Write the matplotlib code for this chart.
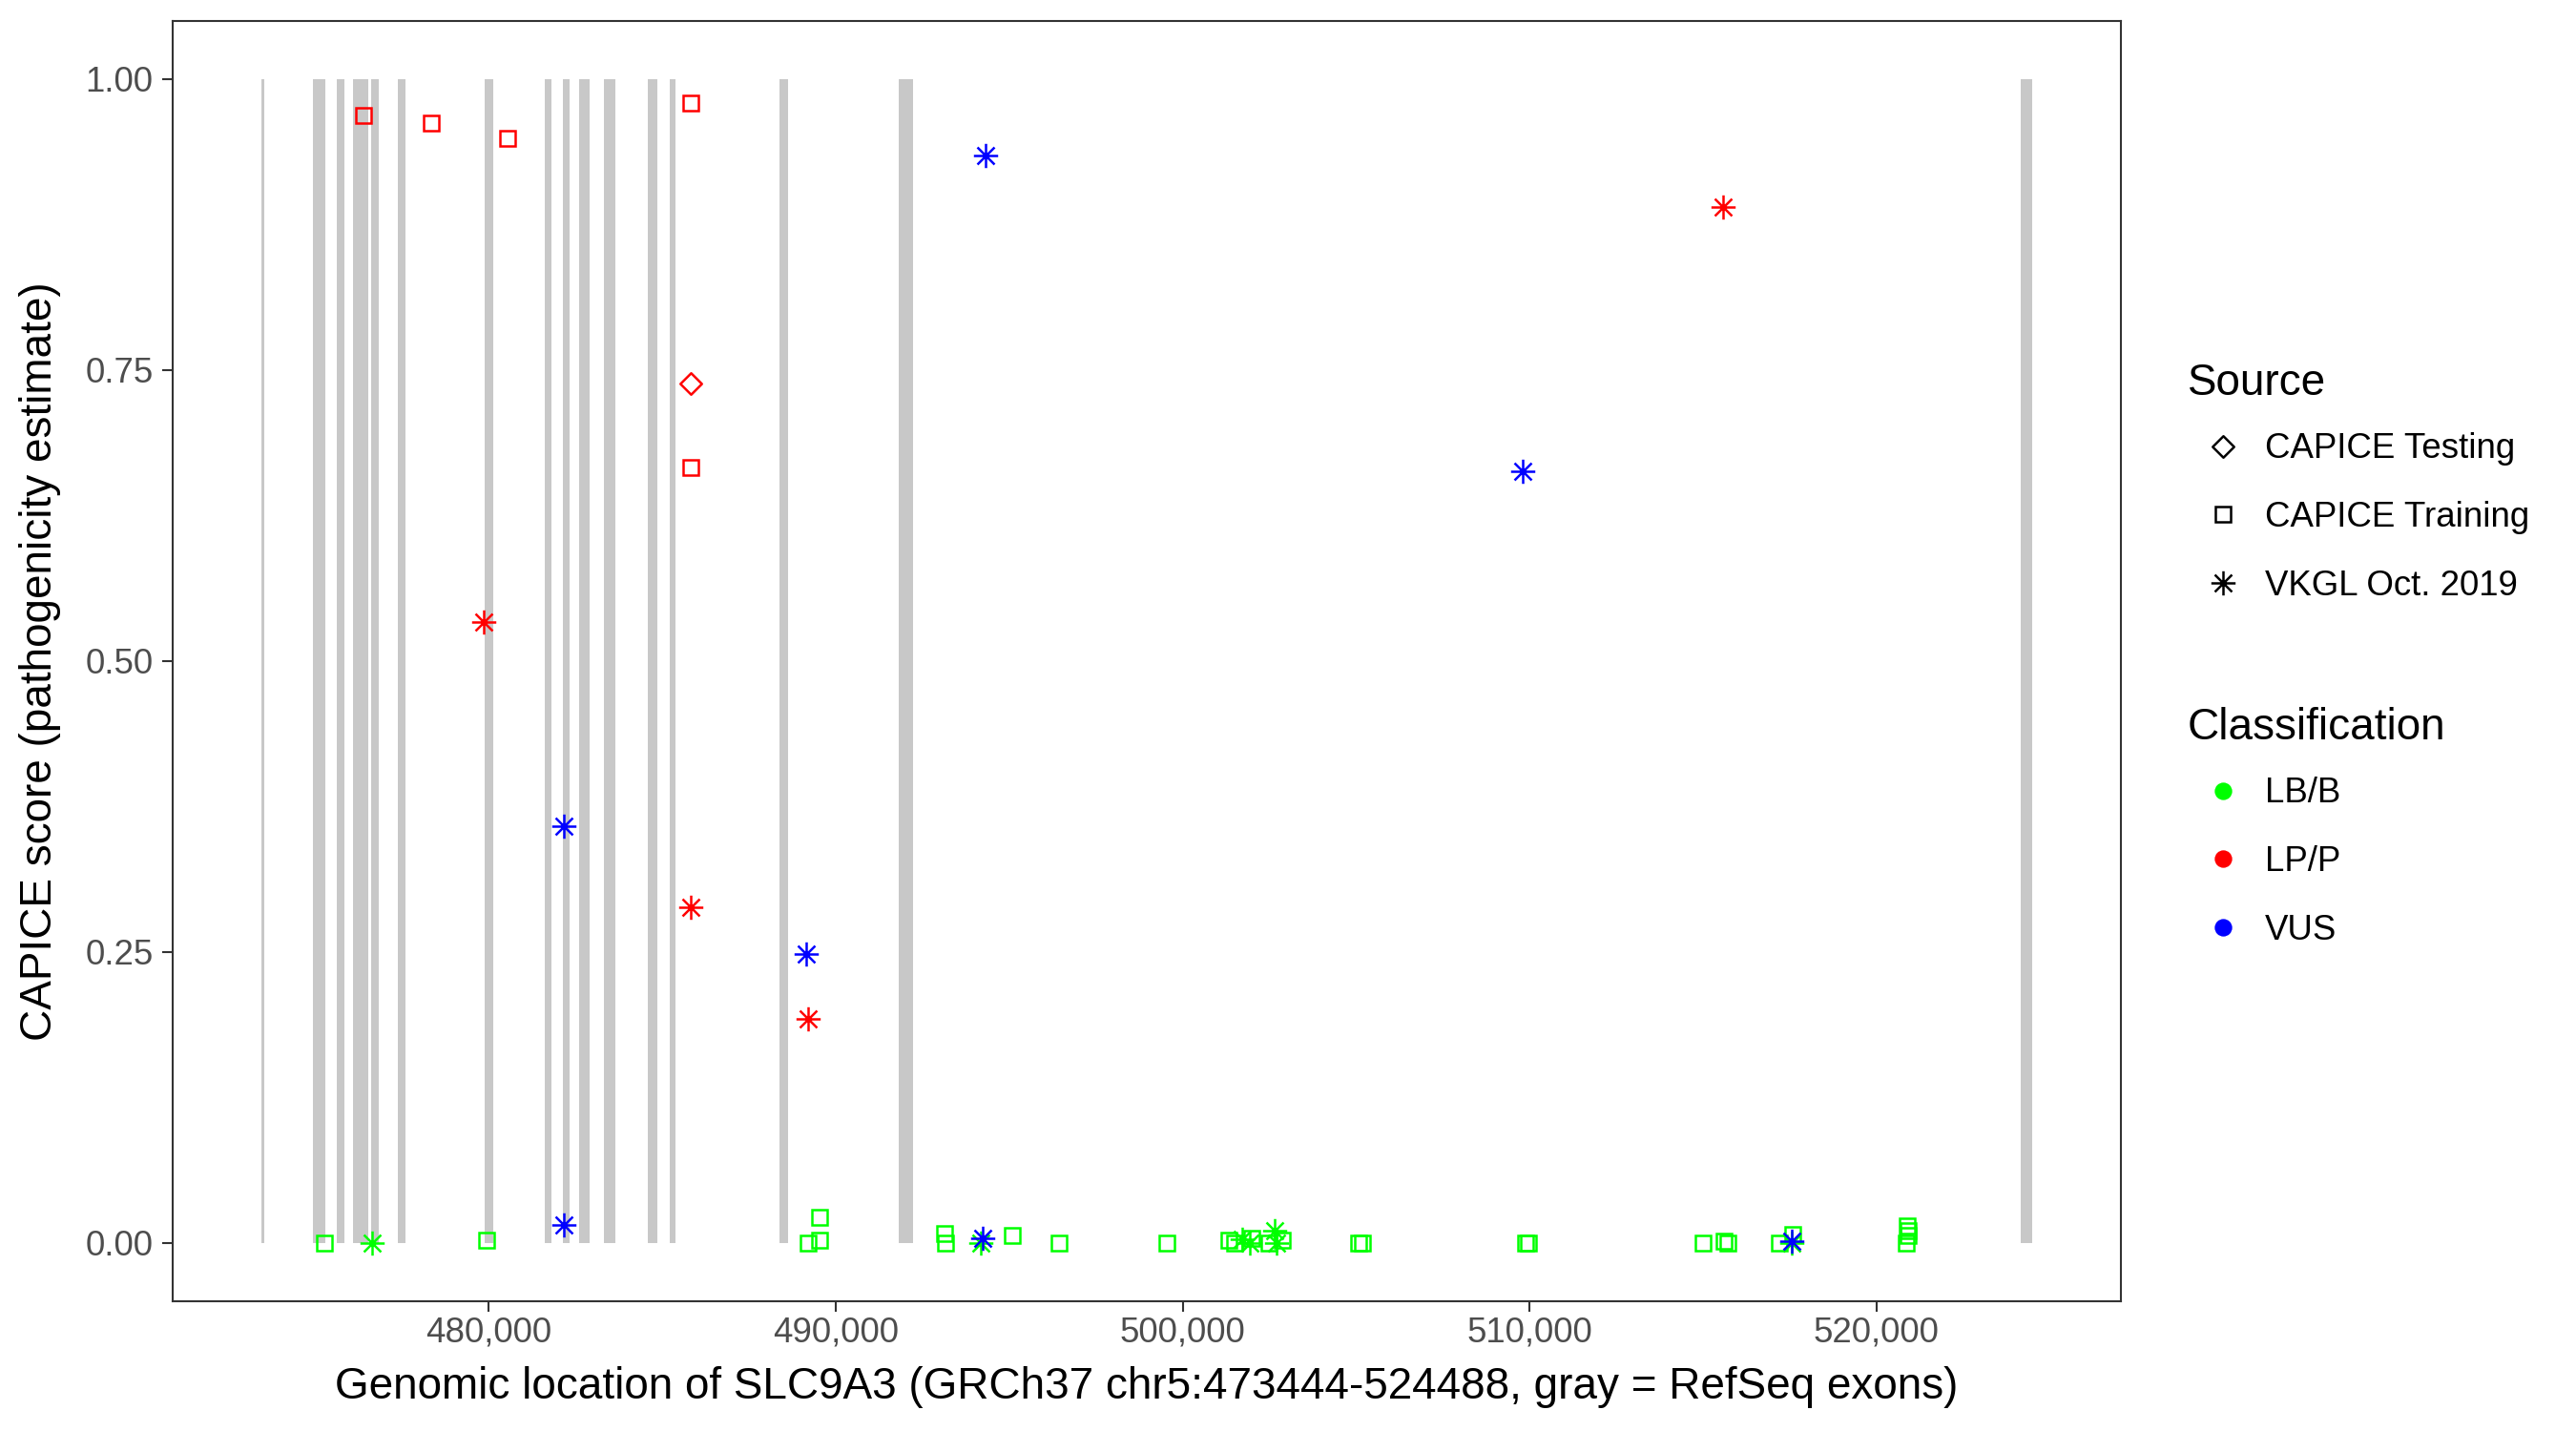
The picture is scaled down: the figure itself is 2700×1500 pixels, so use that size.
import numpy as np
import matplotlib
matplotlib.use("Agg")
import matplotlib.pyplot as plt
from matplotlib.path import Path
from matplotlib.lines import Line2D
from matplotlib.ticker import FuncFormatter, FixedLocator

plt.rcParams['font.family'] = ['Liberation Sans', 'DejaVu Sans']

# ---------------- data ----------------
gene_start, gene_end = 473444, 524488

exon_start = [473444, 474929, 475617, 476084, 476607, 477377, 479879, 481612,
              482135, 482602, 483317, 484582, 485215, 488377, 491815, 524158]
exon_end = [473518, 475278, 475828, 476524, 476818, 477589, 480127, 481805,
            482327, 482896, 483639, 484857, 485380, 488617, 492220, 524488]

# LP/P
lp_pos = [476389, 478353, 480537, 485831, 485831, 485831,
          479860, 485830, 489190, 515590]
lp_score = [0.969, 0.962, 0.949, 0.979, 0.666, 0.738,
            0.533, 0.288, 0.192, 0.890]
lp_source = ["CAPICE Training"] * 5 + ["CAPICE Testing"] + ["VKGL Oct. 2019"] * 4

# VUS
vus_pos = [494318, 482160, 489140, 509800, 482160, 494238, 517560]
vus_score = [0.934, 0.358, 0.248, 0.663, 0.015, 0.004, 0.001]
vus_source = ["VKGL Oct. 2019"] * 7

# LB/B
lb_pos = [475265, 479937, 489189, 489524, 489546, 493130, 493150, 495091,
          496427, 499554, 501342, 501497, 501990, 502499, 502868, 505080,
          505184, 509897, 509980, 515004, 515598, 515713, 517194, 517595,
          520880, 520920, 520900, 520870,
          476623, 494186, 501711, 501923, 502659, 502700, 517560]
lb_score = [0.000, 0.002, 0.000, 0.002, 0.022, 0.008, 0.000, 0.006,
            0.000, 0.000, 0.002, 0.000, 0.004, 0.000, 0.002, 0.000,
            0.000, 0.000, 0.000, 0.000, 0.001, 0.000, 0.000, 0.007,
            0.014, 0.010, 0.006, 0.000,
            0.000, 0.000, 0.003, 0.000, 0.010, 0.000, 0.000]
lb_source = ["CAPICE Training"] * 28 + ["VKGL Oct. 2019"] * 7

classes = ["LB/B", "LP/P", "VUS"]
class_colors = {"LB/B": "#00FF00", "LP/P": "#FF0000", "VUS": "#0000FF"}
sources = ["CAPICE Testing", "CAPICE Training", "VKGL Oct. 2019"]

# ---------------- marker shapes ----------------
diamond = Path([(0, 1), (1, 0), (0, -1), (-1, 0), (0, 1)],
               [Path.MOVETO, Path.LINETO, Path.LINETO, Path.LINETO, Path.CLOSEPOLY])
verts, codes = [], []
for a in np.deg2rad([90, 0, 45, 135]):
    verts += [(np.cos(a), np.sin(a)), (-np.cos(a), -np.sin(a))]
    codes += [Path.MOVETO, Path.LINETO]
asterisk = Path(verts, codes)

src_marker = {"CAPICE Testing": (diamond, 5.4),
              "CAPICE Training": ("s", 3.8),
              "VKGL Oct. 2019": (asterisk, 6.1)}
MEW = 0.6

# ---------------- figure ----------------
W, H = 2700, 1500
fig = plt.figure(figsize=(9, 5), dpi=300)
left, right, top, bottom = 181.2, 2222.8, 21.9, 1363.5
ax = fig.add_axes([left / W, 1 - bottom / H, (right - left) / W, (bottom - top) / H])

rng = gene_end - gene_start
ax.set_xlim(gene_start - 0.05 * rng, gene_end + 0.05 * rng)
ax.set_ylim(-0.05, 1.05)

# exons
ax.bar(exon_start, [1.0] * len(exon_start),
       width=[e - s for s, e in zip(exon_start, exon_end)],
       bottom=0, align='edge', color="#C8C8C8", linewidth=0, zorder=1)

groups = [("LB/B", lb_pos, lb_score, lb_source),
          ("LP/P", lp_pos, lp_score, lp_source),
          ("VUS", vus_pos, vus_score, vus_source)]
for cls, p, s, src in groups:
    for so in sources:
        xs = [pp for pp, ss in zip(p, src) if ss == so]
        ys = [sc for sc, ss in zip(s, src) if ss == so]
        if not xs:
            continue
        mk, ms = src_marker[so]
        ax.plot(xs, ys, ls='none', marker=mk, ms=ms, mfc='none',
                mec=class_colors[cls], mew=MEW, zorder=3)

# axes styling
for sp in ax.spines.values():
    sp.set_linewidth(0.5)
    sp.set_color("#333333")
ax.xaxis.set_major_locator(FixedLocator([480000, 490000, 500000, 510000, 520000]))
ax.xaxis.set_major_formatter(FuncFormatter(lambda v, p: f"{int(v):,}"))
ax.yaxis.set_major_locator(FixedLocator([0, 0.25, 0.5, 0.75, 1.0]))
ax.yaxis.set_major_formatter(FuncFormatter(lambda v, p: f"{v:.2f}"))
ax.tick_params(axis='both', length=2.75, width=0.5, color="#333333",
               labelcolor="#4D4D4D", labelsize=8.8)
ax.tick_params(axis='y', pad=2.2)
ax.tick_params(axis='x', pad=1.2)
ax.set_xlabel("Genomic location of SLC9A3 (GRCh37 chr5:473444-524488, gray = RefSeq exons)",
              fontsize=11, labelpad=4.2)
ax.set_ylabel("CAPICE score (pathogenicity estimate)", fontsize=11, labelpad=6)

# legends
src_handles = [Line2D([], [], ls='none', marker=src_marker[so][0], ms=src_marker[so][1],
                      mfc='none', mec='black', mew=MEW) for so in sources]
cls_handles = [Line2D([], [], ls='none', marker='o', ms=4.4, mfc=class_colors[c],
                      mec=class_colors[c], mew=0) for c in classes]
common = dict(loc='upper left', frameon=False, fontsize=8.8, title_fontsize=11,
              alignment='left', handlelength=2.0, handletextpad=0.2,
              labelspacing=1.0, borderpad=0, borderaxespad=0)
leg1 = fig.legend(src_handles, sources, title="Source",
                  bbox_to_anchor=(2293 / W, 1 - 380 / H), **common)
leg2 = fig.legend(cls_handles, classes, title="Classification",
                  bbox_to_anchor=(2293 / W, 1 - 741 / H), **common)
for lg in (leg1, leg2):
    lg._legend_box.sep = 0.8 * 8.8

fig.savefig("out.png", dpi=300)
